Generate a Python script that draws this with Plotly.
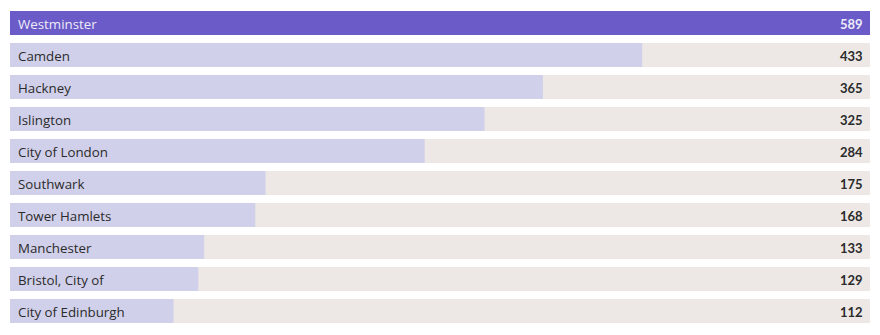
import plotly.graph_objects as go

categories = ["Westminster", "Camden", "Hackney", "Islington", "City of London",
              "Southwark", "Tower Hamlets", "Manchester", "Bristol, City of", "City of Edinburgh"]
values = [589, 433, 365, 325, 284, 175, 168, 133, 129, 112]

max_val = max(values)
highlight = "#6A5BC8"
light = "#D1D0EA"
track = "#EDE8E6"

bar_colors = [highlight if i == 0 else light for i in range(len(values))]

fig = go.Figure()
fig.add_trace(go.Bar(
    y=categories, x=[max_val] * len(categories), orientation="h",
    marker=dict(color=track, line=dict(width=0)), hoverinfo="skip", showlegend=False,
))
fig.add_trace(go.Bar(
    y=categories, x=values, orientation="h",
    marker=dict(color=bar_colors, line=dict(width=0)), showlegend=False,
))

for i, (c, v) in enumerate(zip(categories, values)):
    txt_col = "#EDEBF8" if i == 0 else "#2B2B2B"
    fig.add_annotation(x=0, y=c, xref="x", yref="y", text=c, showarrow=False,
                       xanchor="left", xshift=6, yshift=-1,
                       font=dict(family="'Open Sans', sans-serif", size=13.3, color=txt_col))
    fig.add_annotation(x=max_val, y=c, xref="x", yref="y", text=f"<b>{v}</b>", showarrow=False,
                       xanchor="right", xshift=-5, yshift=-1,
                       font=dict(family="Lato, sans-serif", size=13, color=txt_col))

fig.update_layout(
    width=880, height=335, barmode="overlay", bargap=0.25,
    margin=dict(l=10, r=10, t=7, b=8),
    paper_bgcolor="white", plot_bgcolor="white",
    font=dict(family="Lato, 'Open Sans', sans-serif"),
    xaxis=dict(range=[0, max_val], visible=False, fixedrange=True),
    yaxis=dict(autorange="reversed", visible=False, fixedrange=True),
)

fig.write_html("out.html")
